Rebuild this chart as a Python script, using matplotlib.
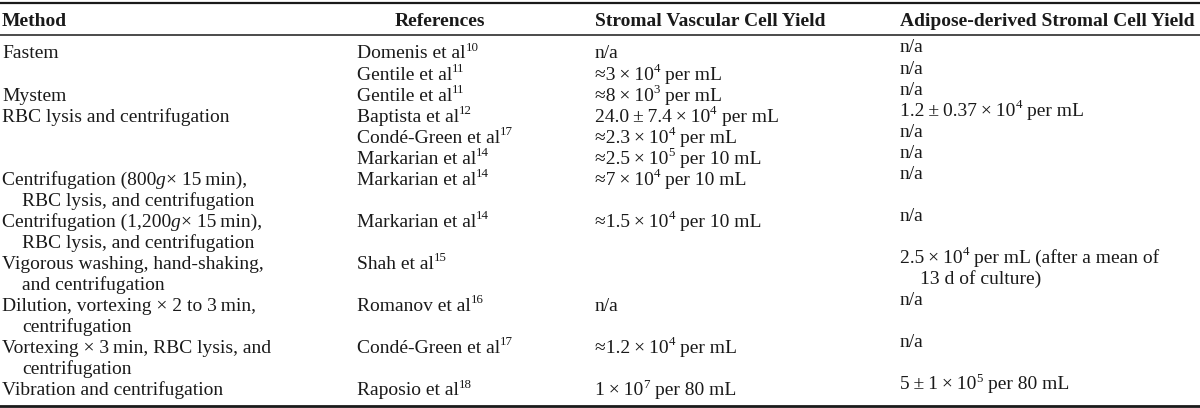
import re
import matplotlib as mpl
import matplotlib.pyplot as plt
from matplotlib.lines import Line2D

mpl.use('Agg')

W, H = 1200, 408
FONT = 'Liberation Serif'
SIZE = 14
INK = '#1a1a1a'
TS = '\u2009'  # thin space

headers = ["Method", "References", "Stromal Vascular Cell Yield",
           "Adipose-derived Stromal Cell Yield"]

# one entry per table row; "\n" starts an indented continuation line
# ^{..} = superscript, *..* = italic
methods = [
    "Fastem",
    "",
    "Mystem",
    "RBC lysis and centrifugation",
    "",
    "",
    "Centrifugation (800*g*× 15" + TS + "min),\nRBC lysis, and centrifugation",
    "Centrifugation (1,200*g*× 15" + TS + "min),\nRBC lysis, and centrifugation",
    "Vigorous washing, hand-shaking,\nand centrifugation",
    "Dilution, vortexing × 2 to 3" + TS + "min,\ncentrifugation",
    "Vortexing × 3" + TS + "min, RBC lysis, and\ncentrifugation",
    "Vibration and centrifugation",
]
references = [
    "Domenis et al^{10}",
    "Gentile et al^{11}",
    "Gentile et al^{11}",
    "Baptista et al^{12}",
    "Condé-Green et al^{17}",
    "Markarian et al^{14}",
    "Markarian et al^{14}",
    "Markarian et al^{14}",
    "Shah et al^{15}",
    "Romanov et al^{16}",
    "Condé-Green et al^{17}",
    "Raposio et al^{18}",
]
svf_yield = [
    "n/a",
    "≈3" + TS + "×" + TS + "10^{4} per mL",
    "≈8" + TS + "×" + TS + "10^{3} per mL",
    "24.0" + TS + "±" + TS + "7.4" + TS + "×" + TS + "10^{4} per mL",
    "≈2.3" + TS + "×" + TS + "10^{4} per mL",
    "≈2.5" + TS + "×" + TS + "10^{5} per 10 mL",
    "≈7" + TS + "×" + TS + "10^{4} per 10 mL",
    "≈1.5" + TS + "×" + TS + "10^{4} per 10 mL",
    "",
    "n/a",
    "≈1.2" + TS + "×" + TS + "10^{4} per mL",
    "1" + TS + "×" + TS + "10^{7} per 80 mL",
]
asc_yield = [
    "n/a",
    "n/a",
    "n/a",
    "1.2" + TS + "±" + TS + "0.37" + TS + "×" + TS + "10^{4} per mL",
    "n/a",
    "n/a",
    "n/a",
    "n/a",
    "2.5" + TS + "×" + TS + "10^{4} per mL (after a mean of\n13 d of culture)",
    "n/a",
    "n/a",
    "5" + TS + "±" + TS + "1" + TS + "×" + TS + "10^{5} per 80 mL",
]

col_x = [2, 357, 595, 900]
col_dy = [0, 0, 0, -6]
indent = 20
header_y = 20
first_y = 53
step = 21.05

fig = plt.figure(figsize=(W / 100, H / 100), dpi=100)
renderer = fig.canvas.get_renderer()


def put(x, y, s, **kw):
    return fig.text(x / W, 1 - y / H, s, family=FONT, color=INK,
                    va='baseline', ha='left', **kw)


def draw_rich(x, y, s, size=SIZE, weight='normal'):
    base = y + 5.5
    for part in re.split(r'(\^\{[^}]*\}|\*[^*]*\*)', s):
        if not part:
            continue
        if part.startswith('^{'):
            txt, fs, yy, style = part[2:-1], size * 0.66, base - size * 0.40 * 100 / 72, 'normal'
        elif part.startswith('*'):
            txt, fs, yy, style = part[1:-1], size, base, 'italic'
        else:
            txt, fs, yy, style = part, size, base, 'normal'
        sp = 0.25 * fs * 100 / 72
        lead = len(txt) - len(txt.lstrip(' '))
        trail = len(txt) - len(txt.rstrip(' '))
        x += lead * sp
        core = txt.strip(' ')
        if core:
            t = put(x, yy, core, fontsize=fs, fontstyle=style, fontweight=weight)
            x += t.get_window_extent(renderer).width
        x += trail * sp
    return x


# header
draw_rich(col_x[0], header_y, headers[0], weight='bold')
t = put(0, 0, headers[1], fontsize=SIZE, fontweight='bold')
wref = t.get_window_extent(renderer).width
t.remove()
draw_rich(440 - wref / 2, header_y, headers[1], weight='bold')
draw_rich(col_x[2], header_y, headers[2], weight='bold')
draw_rich(col_x[3], header_y, headers[3], weight='bold')

# body
line = 0
for row in zip(methods, references, svf_yield, asc_yield):
    nlines = max(len(c.split('\n')) for c in row)
    for ci, cell in enumerate(row):
        if not cell:
            continue
        for li, txt in enumerate(cell.split('\n')):
            x = col_x[ci] + (indent if li > 0 else 0)
            y = first_y + step * (line + li) + col_dy[ci]
            draw_rich(x, y, txt)
    line += nlines

# rules
for y, lw in [(3, 1.6), (35, 1.1), (406, 2.0)]:
    fig.add_artist(Line2D([0, 1], [1 - y / H, 1 - y / H], transform=fig.transFigure,
                          color=INK, linewidth=lw))

fig.savefig('out.png', dpi=100)
